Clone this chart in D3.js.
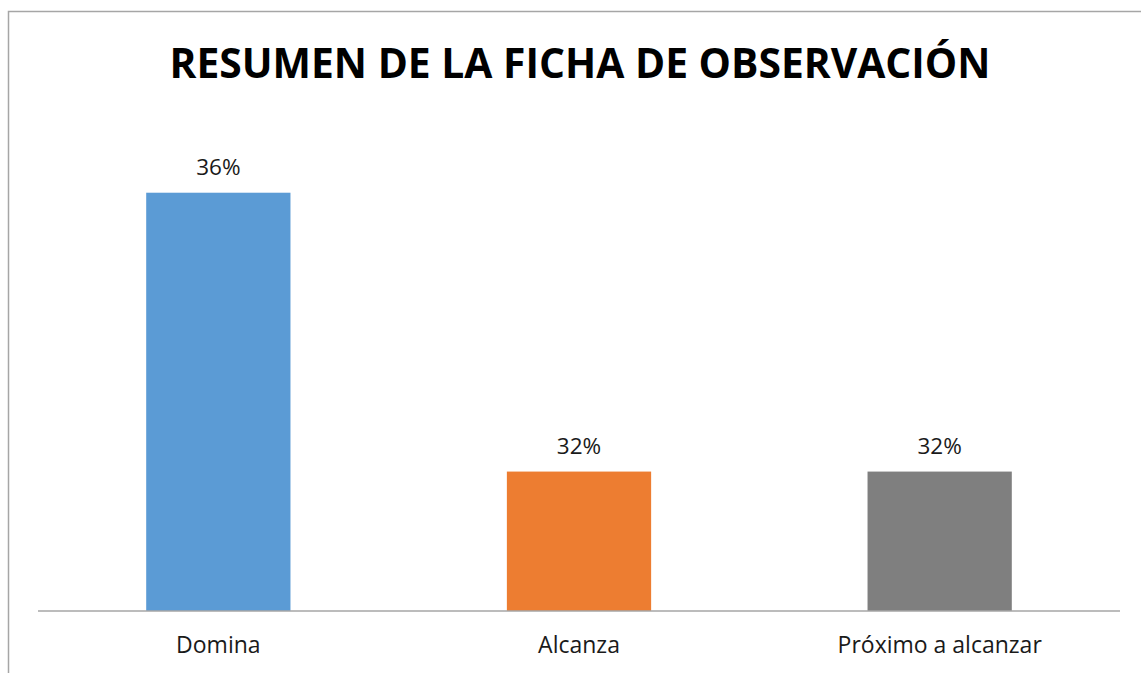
<!DOCTYPE html>
<html>
<head>
<meta charset="utf-8">
<script src="https://cdn.jsdelivr.net/npm/d3@7"></script>
<style>
  body { margin: 0; background: #fff; }
  svg { display: block; font-family: "Open Sans", "Noto Sans", sans-serif; }
</style>
</head>
<body>
<div id="chart"></div>
<script>
// Data
const categories = ["Domina", "Alcanza", "Próximo a alcanzar"];
const values = [0.36, 0.32, 0.32];
const colors = ["#5B9BD5", "#ED7D31", "#7F7F7F"];
const title = "RESUMEN DE LA FICHA DE OBSERVACIÓN";

const W = 1141, H = 673;
const margin = { top: 123, right: 21, bottom: 62, left: 38 };
const width = W - margin.left - margin.right;
const height = H - margin.top - margin.bottom;

const svg = d3.select("#chart").append("svg")
  .attr("width", W)
  .attr("height", H);

// Chart area border
svg.append("rect")
  .attr("x", 8.5)
  .attr("y", 11.5)
  .attr("width", W + 20)
  .attr("height", H + 20)
  .attr("fill", "none")
  .attr("stroke", "#A6A6A6")
  .attr("stroke-width", 1.5);

// Title
svg.append("text")
  .attr("x", 580)
  .attr("y", 78)
  .attr("text-anchor", "middle")
  .attr("font-size", 40.8)
  .attr("font-weight", "bold")
  .attr("fill", "#000")
  .text(title);

const g = svg.append("g")
  .attr("transform", "translate(" + margin.left + "," + margin.top + ")");

// Scales
const x = d3.scaleBand()
  .domain(categories)
  .range([0, width])
  .paddingInner(0.6)
  .paddingOuter(0.3);

const y = d3.scaleLinear()
  .domain([0.30, 0.37])
  .range([height, 0]);

// Bars
g.selectAll(".bar")
  .data(categories)
  .enter()
  .append("rect")
  .attr("class", "bar")
  .attr("x", d => x(d))
  .attr("y", (d, i) => y(values[i]))
  .attr("width", x.bandwidth())
  .attr("height", (d, i) => height - y(values[i]))
  .attr("fill", (d, i) => colors[i]);

// Value labels
g.selectAll(".label")
  .data(categories)
  .enter()
  .append("text")
  .attr("class", "label")
  .attr("x", d => x(d) + x.bandwidth() / 2)
  .attr("y", (d, i) => y(values[i]) - 18)
  .attr("text-anchor", "middle")
  .attr("font-size", 22.5)
  .attr("fill", "#1a1a1a")
  .text((d, i) => Math.round(values[i] * 100) + "%");

// x-axis
const xAxis = d3.axisBottom(x).tickSize(0).tickPadding(0);
const axisG = g.append("g")
  .attr("class", "x-axis")
  .attr("transform", "translate(0," + height + ")")
  .call(xAxis);

axisG.select(".domain")
  .attr("stroke", "#A6A6A6")
  .attr("stroke-width", 1.5)
  .attr("d", "M0,0H" + width);

axisG.selectAll(".tick text")
  .attr("y", 42)
  .attr("dy", 0)
  .attr("font-size", 23)
  .attr("font-family", "\"Open Sans\", sans-serif")
  .attr("fill", "#1a1a1a");
</script>
</body>
</html>
